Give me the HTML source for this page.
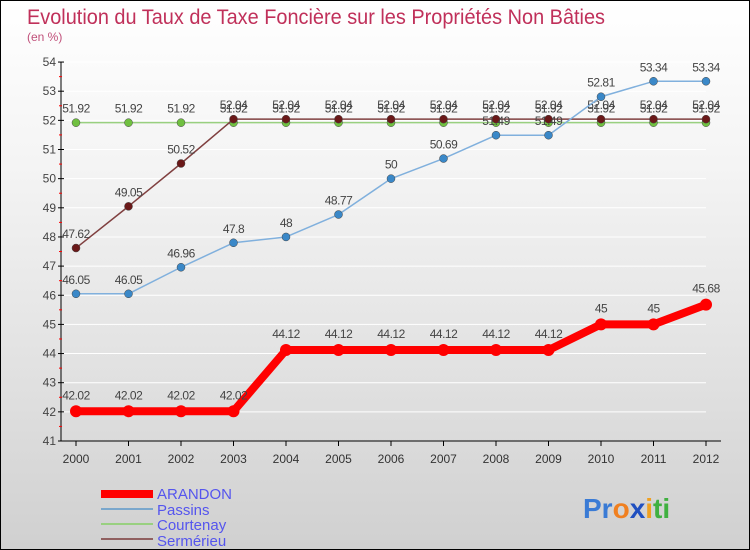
<!DOCTYPE html>
<html><head><meta charset="utf-8"><style>
body{margin:0}
#c{width:750px;height:550px;position:relative;overflow:hidden;box-sizing:border-box;border:1px solid #000;background:linear-gradient(#fff 0%,#f4f4f4 30%,#e0e0e0 70%,#d0d0d0 100%);font-family:"Liberation Sans",sans-serif}
</style></head><body>
<div id="c">
<svg id="s" width="750" height="550" style="position:absolute;left:0;top:0">
<text x="26" y="23" font-size="21" fill="#c0305a" textLength="578" lengthAdjust="spacingAndGlyphs">Evolution du Taux de Taxe Foncière sur les Propriétés Non Bâties</text>
<text x="26" y="40" font-size="12" fill="#c0507a">(en %)</text>
<g id="axes"></g><g id="series"></g>
<g>
<rect x="100" y="489" width="52" height="8" fill="#f00"/>
<text x="156" y="498" font-size="15" fill="#5555ee">ARANDON</text>
<rect x="100" y="507" width="52" height="2" fill="#7aa7cc"/>
<text x="156" y="514" font-size="15" fill="#5555ee">Passins</text>
<rect x="100" y="522" width="52" height="2" fill="#99d080"/>
<text x="156" y="529" font-size="15" fill="#5555ee">Courtenay</text>
<rect x="100" y="537" width="52" height="2" fill="#906060"/>
<text x="156" y="545" font-size="15" fill="#5555ee">Sermérieu</text>
</g>
<text x="582" y="517" font-size="28" font-weight="bold"><tspan fill="#3a7bd5">Pr</tspan><tspan fill="#f08020">o</tspan><tspan fill="#2050c0">x</tspan><tspan fill="#f0a020">i</tspan><tspan fill="#40b040">ti</tspan></text>
</svg>
</div>
<script>
const years=[2000,2001,2002,2003,2004,2005,2006,2007,2008,2009,2010,2011,2012];
const yTicks=[41,42,43,44,45,46,47,48,49,50,51,52,53,54];
const arandon=[42.02,42.02,42.02,42.02,44.12,44.12,44.12,44.12,44.12,44.12,45,45,45.68];
const passins=[46.05,46.05,46.96,47.8,48,48.77,50,50.69,51.49,51.49,52.81,53.34,53.34];
const courtenay=[51.92,51.92,51.92,51.92,51.92,51.92,51.92,51.92,51.92,51.92,51.92,51.92,51.92];
const sermerieu=[47.62,49.05,50.52,52.04,52.04,52.04,52.04,52.04,52.04,52.04,52.04,52.04,52.04];
const NS="http://www.w3.org/2000/svg";
const xS=i=>75+i*52.5, yS=v=>440-(v-41)*29.15;
function mk(t,a,p){const e=document.createElementNS(NS,t);for(const k in a)e.setAttribute(k,a[k]);p.appendChild(e);return e;}
const ax=document.getElementById('axes');
for(const v of yTicks){
 mk('line',{x1:60,x2:705,y1:yS(v),y2:yS(v),stroke:'#fff','stroke-width':1},ax);
}
const yl=mk('line',{x1:60,x2:60,y1:61,y2:440,stroke:'#000'},ax);


const xl=mk('line',{x1:60,x2:720,y1:440,y2:440,stroke:'#000'},ax);


for(const v of yTicks){
 mk('line',{x1:57,x2:63,y1:yS(v),y2:yS(v),stroke:'#000'},ax);
 if(v<54)mk('line',{x1:58,x2:61,y1:yS(v+0.5),y2:yS(v+0.5),stroke:'#f00'},ax);
 const t=mk('text',{x:55,y:yS(v)+4,'font-size':12,fill:'#444','text-anchor':'end'},ax);
 t.textContent=v;
 
 
}
years.forEach((y,i)=>{
 mk('line',{x1:xS(i),x2:xS(i),y1:440,y2:445,stroke:'#000'},ax);
 const t=mk('text',{x:xS(i),y:462,'font-size':12,fill:'#333','text-anchor':'middle'},ax);
 t.textContent=y;
 
 
});
const sg=document.getElementById('series');
function draw(data,name,col,dot,w,r,dy){
 const g=mk('g',{},sg);
 
 
 const p=mk('polyline',{points:data.map((v,i)=>xS(i)+','+yS(v)).join(' '),fill:'none',stroke:col,'stroke-width':w,'stroke-linejoin':'round'},g);
 
 
 data.forEach((v,i)=>{
  const c=mk('circle',{cx:xS(i),cy:yS(v),r:r,fill:dot,stroke:w>3?'none':'#444','stroke-width':0.5},g);
  
  
  const t=mk('text',{x:xS(i),y:yS(v)+dy,'font-size':12,fill:'#444','text-anchor':'middle','letter-spacing':'-0.5'},g);
  t.textContent=String(v);
  
  
 });
}
draw(courtenay,'courtenay','#99d080','#70c040',1.5,4,-10);
draw(sermerieu,'sermerieu','#804040','#6a1818',1.5,4,-10);
draw(passins,'passins','#80b0dd','#3a88c8',1.5,4,-10);
draw(arandon,'arandon','#f00','#f00',8,6,-12);
</script>
</body></html>
